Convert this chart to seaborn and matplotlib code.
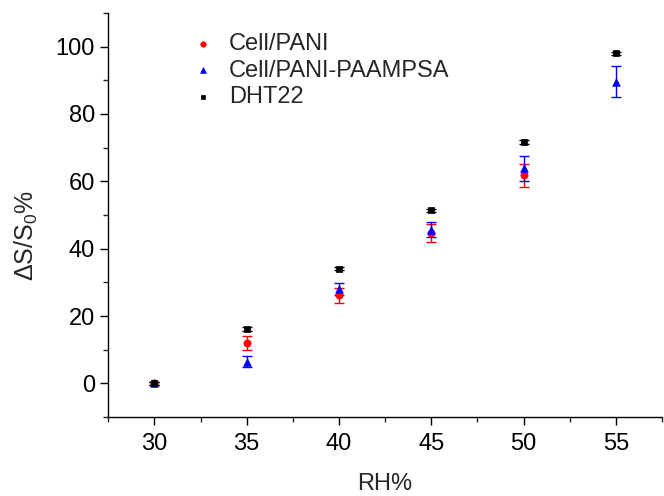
import pandas as pd
import matplotlib.pyplot as plt
import matplotlib.ticker as mticker
import seaborn as sns
import numpy as np

# values
rh = [30, 35, 40, 45, 50, 55]
pani = [0.0, 12.0, 26.2, 44.6, 61.8, np.nan]
pani_err = [0.4, 2.0, 2.2, 2.6, 3.4, np.nan]
paampsa = [0.0, 6.5, 28.1, 45.7, 63.9, 89.6]
paampsa_err = [0.4, 1.6, 1.8, 2.2, 3.7, 4.6]
dht = [0.0, 16.2, 34.1, 51.4, 71.7, 98.0]
dht_err = [0.4, 0.5, 0.5, 0.5, 0.5, 0.5]

names = ['Cell/PANI', 'Cell/PANI-PAAMPSA', 'DHT22']
colors = {'Cell/PANI': '#ff0000', 'Cell/PANI-PAAMPSA': '#0000ff', 'DHT22': '#000000'}
markers = {'Cell/PANI': 'o', 'Cell/PANI-PAAMPSA': '^', 'DHT22': 's'}
sizes = {'Cell/PANI': 5.2, 'Cell/PANI-PAAMPSA': 5.5, 'DHT22': 4.5}

# long table for seaborn
frames = []
for name, vals, errs in zip(names, [pani, paampsa, dht], [pani_err, paampsa_err, dht_err]):
    frames.append(pd.DataFrame({'RH': rh, 'val': vals, 'err': errs, 'sample': name}))
df = pd.concat(frames, ignore_index=True).dropna()

sns.set_style('ticks')
plt.rcParams['font.family'] = ['Liberation Sans', 'DejaVu Sans']
plt.rcParams['mathtext.fontset'] = 'custom'
plt.rcParams['mathtext.rm'] = 'Liberation Sans'
plt.rcParams['mathtext.it'] = 'Liberation Sans:italic'

fig, ax = plt.subplots(figsize=(6.64, 4.96), dpi=100)
fig.subplots_adjust(left=0.163, right=0.997, top=0.974, bottom=0.159)

# error bars first, then the markers on top
for name in names:
    sub = df[df['sample'] == name]
    ax.errorbar(sub['RH'], sub['val'], yerr=sub['err'], fmt='none',
                ecolor=colors[name], elinewidth=1, capsize=3.5, capthick=1, zorder=2)

for name in names:
    sub = df[df['sample'] == name]
    sns.scatterplot(data=sub, x='RH', y='val', color=colors[name], marker=markers[name],
                    s=sizes[name] ** 2, edgecolor=colors[name], linewidth=0.5,
                    label=name, ax=ax, zorder=3)

ax.set_xlim(27.5, 57.5)
ax.set_ylim(-10, 110)
ax.set_xticks([30, 35, 40, 45, 50, 55])
ax.set_yticks([0, 20, 40, 60, 80, 100])
ax.xaxis.set_minor_locator(mticker.MultipleLocator(2.5))
ax.yaxis.set_minor_locator(mticker.MultipleLocator(10))
ax.tick_params(which='major', direction='out', length=5.5, width=1, labelsize=17, colors='#000000')
ax.tick_params(axis='x', which='major', pad=6)
ax.tick_params(axis='y', which='major', pad=4)
ax.tick_params(which='minor', direction='out', length=3.5, width=1)
for s in ['left', 'bottom']:
    ax.spines[s].set_linewidth(1)
    ax.spines[s].set_color('#000000')
sns.despine(ax=ax)

ax.set_xlabel('RH%', fontsize=17, labelpad=13)
ax.set_ylabel(r'$\Delta$S/S$_0$%', fontsize=18)
ax.yaxis.set_label_coords(-0.123, 0.45)

leg = ax.legend(loc='upper left', bbox_to_anchor=(0.128, 0.98), frameon=False,
                fontsize=17, borderpad=0, handlelength=1.0, handletextpad=0.6,
                labelspacing=0.2, markerscale=0.75)

plt.savefig('out.png', dpi=100)
